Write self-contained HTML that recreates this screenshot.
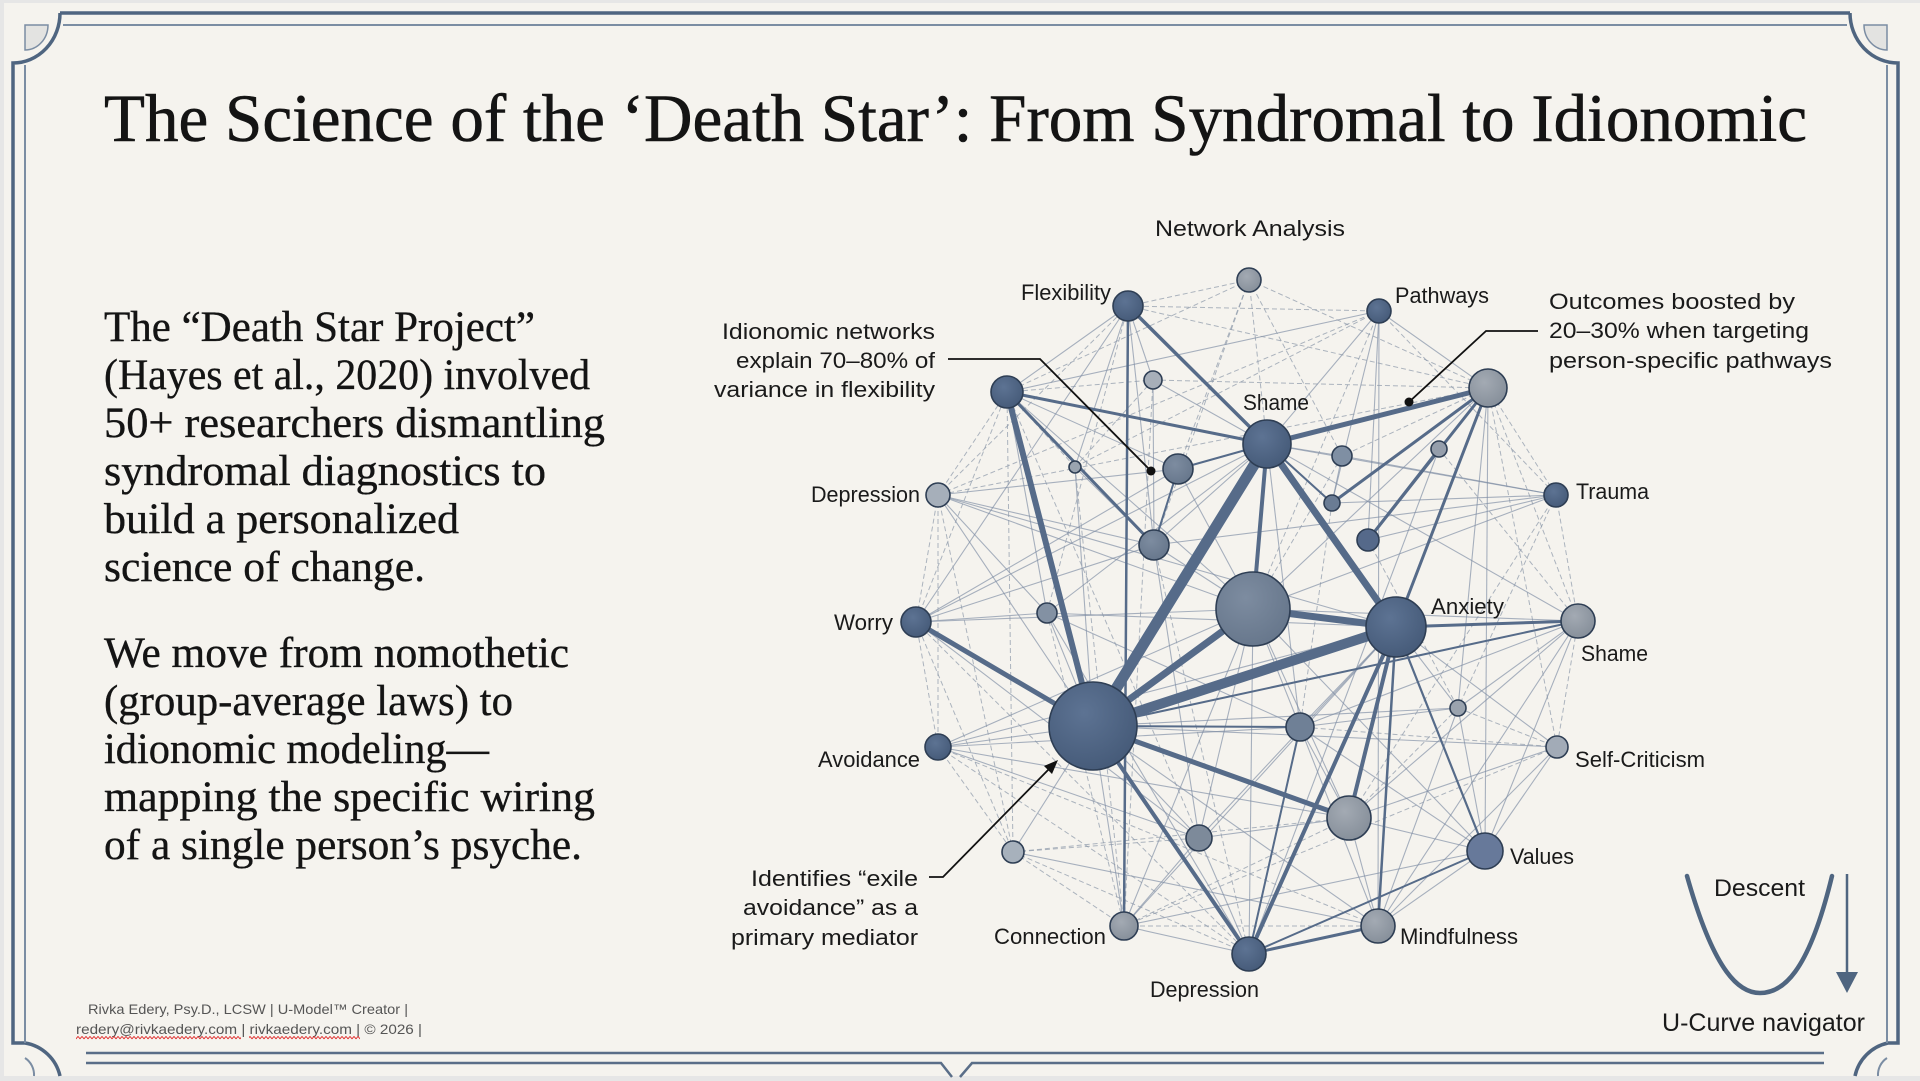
<!DOCTYPE html>
<html>
<head>
<meta charset="utf-8">
<style>
html,body{margin:0;padding:0;width:1920px;height:1081px;overflow:hidden;background:#e6e6e6;}
svg{display:block;}
.serif{font-family:"Liberation Serif","DejaVu Serif",serif;fill:#141414;stroke:#141414;stroke-width:0.35;}
.sans{font-family:"Liberation Sans","DejaVu Sans",sans-serif;fill:#1a1a1a;}
.t line{stroke:#7d8ca3;stroke-width:1.1;opacity:.65;}
.d line{stroke:#8c98a9;stroke-width:1;stroke-dasharray:5 3;opacity:.7;}
.k line{stroke:#566b89;stroke-linecap:round;}
.n circle{stroke:#2e3e54;stroke-width:1.6;}
</style>
</head>
<body>
<svg width="1920" height="1081" viewBox="0 0 1920 1081" xmlns="http://www.w3.org/2000/svg">
<defs>
<pattern id="wavy" width="4" height="4" patternUnits="userSpaceOnUse">
<path d="M0,3 L1,1.5 L2,0.5 L3,1.5 L4,3" stroke="#e02a2a" fill="none" stroke-width="0.9"/>
</pattern>
<radialGradient id="gd" cx="40%" cy="35%" r="70%"><stop offset="0" stop-color="#5d7393"/><stop offset="1" stop-color="#455a78"/></radialGradient>
<radialGradient id="gc" cx="40%" cy="35%" r="70%"><stop offset="0" stop-color="#7d8ca0"/><stop offset="1" stop-color="#66768b"/></radialGradient>
<radialGradient id="gg" cx="40%" cy="35%" r="70%"><stop offset="0" stop-color="#a3aab3"/><stop offset="1" stop-color="#858e99"/></radialGradient>
</defs>

<!-- page -->
<rect x="4" y="3" width="1916" height="1073" fill="#f5f3ee"/>

<!-- border -->
<g fill="none" stroke="#4f6580" stroke-width="3.5">
<path d="M60,13 H1850"/>
<path d="M60,13 A47,50 0 0 1 13,63 V1043 H25 A43,43 0 0 1 60,1076"/>
<path d="M1850,13 A48,50 0 0 0 1898,63 V1043 H1888 A43,43 0 0 0 1855,1076"/>
</g>
<g fill="none" stroke="#7b8da3" stroke-width="2">
<path d="M63,25 H1847"/>
<path d="M25,65 V1043"/>
<path d="M1887,65 V1043"/>
<path d="M25,1058 A20,20 0 0 1 34,1076"/>
<path d="M1887,1058 A20,20 0 0 0 1878,1076"/>
</g>
<path d="M25,25 H48 A23,25 0 0 1 25,50 Z" fill="#e3e3e1" stroke="#7b8da3" stroke-width="1.5"/>
<path d="M1887,25 H1864 A23,25 0 0 0 1887,50 Z" fill="#e3e3e1" stroke="#7b8da3" stroke-width="1.5"/>
<g fill="none" stroke="#5a6e88" stroke-width="2.5">
<path d="M86,1053 H1824"/>
<path d="M86,1063 H941 L952,1077 M960,1077 L972,1063 H1824"/>
</g>

<!-- title -->
<text class="serif" x="104" y="141" font-size="68" textLength="1703" lengthAdjust="spacingAndGlyphs" style="stroke-width:0.6">The Science of the ‘Death Star’: From Syndromal to Idionomic</text>

<!-- body text -->
<g class="serif" font-size="43">
<text x="104" y="341" textLength="431" lengthAdjust="spacingAndGlyphs">The “Death Star Project”</text>
<text x="104" y="389" textLength="486" lengthAdjust="spacingAndGlyphs">(Hayes et al., 2020) involved</text>
<text x="104" y="437" textLength="501" lengthAdjust="spacingAndGlyphs">50+ researchers dismantling</text>
<text x="104" y="485" textLength="442" lengthAdjust="spacingAndGlyphs">syndromal diagnostics to</text>
<text x="104" y="533" textLength="355" lengthAdjust="spacingAndGlyphs">build a personalized</text>
<text x="104" y="581" textLength="321" lengthAdjust="spacingAndGlyphs">science of change.</text>
<text x="104" y="667" textLength="465" lengthAdjust="spacingAndGlyphs">We move from nomothetic</text>
<text x="104" y="715" textLength="409" lengthAdjust="spacingAndGlyphs">(group-average laws) to</text>
<text x="104" y="763" textLength="385" lengthAdjust="spacingAndGlyphs">idionomic modeling—</text>
<text x="104" y="811" textLength="491" lengthAdjust="spacingAndGlyphs">mapping the specific wiring</text>
<text x="104" y="859" textLength="478" lengthAdjust="spacingAndGlyphs">of a single person’s psyche.</text>
</g>

<!-- thin edges -->
<g class="t">
<line x1="1128" y1="306" x2="1007" y2="392"/>
<line x1="1128" y1="306" x2="1154" y2="545"/>
<line x1="1128" y1="306" x2="1075" y2="467"/>
<line x1="1128" y1="306" x2="916" y2="622"/>
<line x1="1128" y1="306" x2="1153" y2="380"/>
<line x1="1379" y1="311" x2="1267" y2="444"/>
<line x1="1379" y1="311" x2="1007" y2="392"/>
<line x1="1379" y1="311" x2="1332" y2="503"/>
<line x1="1379" y1="311" x2="1368" y2="540"/>
<line x1="1379" y1="311" x2="1378" y2="926"/>
<line x1="1379" y1="311" x2="1488" y2="388"/>
<line x1="1007" y1="392" x2="1178" y2="469"/>
<line x1="1007" y1="392" x2="1253" y2="609"/>
<line x1="1007" y1="392" x2="1047" y2="613"/>
<line x1="1153" y1="380" x2="1267" y2="444"/>
<line x1="1153" y1="380" x2="1154" y2="545"/>
<line x1="1267" y1="444" x2="1342" y2="456"/>
<line x1="1267" y1="444" x2="1332" y2="503"/>
<line x1="1267" y1="444" x2="916" y2="622"/>
<line x1="1267" y1="444" x2="1047" y2="613"/>
<line x1="1267" y1="444" x2="1556" y2="495"/>
<line x1="1267" y1="444" x2="1578" y2="621"/>
<line x1="1267" y1="444" x2="1300" y2="727"/>
<line x1="1267" y1="444" x2="1154" y2="545"/>
<line x1="1488" y1="388" x2="1253" y2="609"/>
<line x1="1488" y1="388" x2="1458" y2="708"/>
<line x1="1488" y1="388" x2="1485" y2="851"/>
<line x1="1488" y1="388" x2="1439" y2="449"/>
<line x1="1342" y1="456" x2="1332" y2="503"/>
<line x1="1342" y1="456" x2="1556" y2="495"/>
<line x1="1439" y1="449" x2="1249" y2="954"/>
<line x1="1556" y1="495" x2="1332" y2="503"/>
<line x1="1556" y1="495" x2="1368" y2="540"/>
<line x1="1556" y1="495" x2="1253" y2="609"/>
<line x1="1556" y1="495" x2="1154" y2="545"/>
<line x1="938" y1="495" x2="1154" y2="545"/>
<line x1="938" y1="495" x2="1178" y2="469"/>
<line x1="938" y1="495" x2="1253" y2="609"/>
<line x1="938" y1="495" x2="1047" y2="613"/>
<line x1="938" y1="495" x2="1093" y2="726"/>
<line x1="938" y1="495" x2="1396" y2="627"/>
<line x1="916" y1="622" x2="1047" y2="613"/>
<line x1="916" y1="622" x2="1253" y2="609"/>
<line x1="916" y1="622" x2="1154" y2="545"/>
<line x1="916" y1="622" x2="1178" y2="469"/>
<line x1="916" y1="622" x2="1199" y2="838"/>
<line x1="1075" y1="467" x2="1154" y2="545"/>
<line x1="1075" y1="467" x2="1093" y2="726"/>
<line x1="1154" y1="545" x2="1253" y2="609"/>
<line x1="1154" y1="545" x2="1199" y2="838"/>
<line x1="1178" y1="469" x2="1154" y2="545"/>
<line x1="1178" y1="469" x2="1253" y2="609"/>
<line x1="1047" y1="613" x2="1093" y2="726"/>
<line x1="1047" y1="613" x2="1396" y2="627"/>
<line x1="1047" y1="613" x2="1300" y2="727"/>
<line x1="1047" y1="613" x2="1249" y2="954"/>
<line x1="1253" y1="609" x2="1300" y2="727"/>
<line x1="1253" y1="609" x2="1349" y2="818"/>
<line x1="1253" y1="609" x2="1249" y2="954"/>
<line x1="1253" y1="609" x2="1124" y2="926"/>
<line x1="1253" y1="609" x2="1485" y2="851"/>
<line x1="1253" y1="609" x2="1199" y2="838"/>
<line x1="1396" y1="627" x2="1458" y2="708"/>
<line x1="1396" y1="627" x2="1300" y2="727"/>
<line x1="1396" y1="627" x2="1557" y2="747"/>
<line x1="1396" y1="627" x2="1124" y2="926"/>
<line x1="1396" y1="627" x2="1199" y2="838"/>
<line x1="1578" y1="621" x2="1458" y2="708"/>
<line x1="1578" y1="621" x2="1485" y2="851"/>
<line x1="1578" y1="621" x2="1300" y2="727"/>
<line x1="1578" y1="621" x2="1349" y2="818"/>
<line x1="1578" y1="621" x2="1378" y2="926"/>
<line x1="1578" y1="621" x2="1253" y2="609"/>
<line x1="1458" y1="708" x2="1485" y2="851"/>
<line x1="1458" y1="708" x2="1378" y2="926"/>
<line x1="1458" y1="708" x2="1300" y2="727"/>
<line x1="1093" y1="726" x2="938" y2="747"/>
<line x1="1093" y1="726" x2="1013" y2="852"/>
<line x1="1093" y1="726" x2="1199" y2="838"/>
<line x1="1093" y1="726" x2="1124" y2="926"/>
<line x1="1093" y1="726" x2="1378" y2="926"/>
<line x1="1093" y1="726" x2="1557" y2="747"/>
<line x1="1093" y1="726" x2="1458" y2="708"/>
<line x1="938" y1="747" x2="1199" y2="838"/>
<line x1="938" y1="747" x2="1253" y2="609"/>
<line x1="938" y1="747" x2="1300" y2="727"/>
<line x1="938" y1="747" x2="1349" y2="818"/>
<line x1="938" y1="747" x2="1396" y2="627"/>
<line x1="1300" y1="727" x2="1349" y2="818"/>
<line x1="1300" y1="727" x2="1378" y2="926"/>
<line x1="1300" y1="727" x2="1485" y2="851"/>
<line x1="1557" y1="747" x2="1485" y2="851"/>
<line x1="1557" y1="747" x2="1349" y2="818"/>
<line x1="1557" y1="747" x2="1378" y2="926"/>
<line x1="1349" y1="818" x2="1485" y2="851"/>
<line x1="1349" y1="818" x2="1378" y2="926"/>
<line x1="1349" y1="818" x2="1199" y2="838"/>
<line x1="1199" y1="838" x2="1249" y2="954"/>
<line x1="1199" y1="838" x2="1124" y2="926"/>
<line x1="1013" y1="852" x2="1378" y2="926"/>
<line x1="1485" y1="851" x2="1378" y2="926"/>
<line x1="1485" y1="851" x2="1124" y2="926"/>
<line x1="1124" y1="926" x2="1249" y2="954"/>
</g>

<!-- dashed edges -->
<g class="d">
<line x1="1128" y1="306" x2="1249" y2="280"/>
<line x1="1128" y1="306" x2="1488" y2="388"/>
<line x1="1128" y1="306" x2="1379" y2="311"/>
<line x1="1128" y1="306" x2="938" y2="495"/>
<line x1="1128" y1="306" x2="1047" y2="613"/>
<line x1="1249" y1="280" x2="1267" y2="444"/>
<line x1="1249" y1="280" x2="1178" y2="469"/>
<line x1="1249" y1="280" x2="1007" y2="392"/>
<line x1="1249" y1="280" x2="1488" y2="388"/>
<line x1="1249" y1="280" x2="1342" y2="456"/>
<line x1="1249" y1="280" x2="1154" y2="545"/>
<line x1="1379" y1="311" x2="1075" y2="467"/>
<line x1="1379" y1="311" x2="938" y2="495"/>
<line x1="1379" y1="311" x2="1556" y2="495"/>
<line x1="1379" y1="311" x2="1253" y2="609"/>
<line x1="1007" y1="392" x2="938" y2="495"/>
<line x1="1007" y1="392" x2="1075" y2="467"/>
<line x1="1007" y1="392" x2="1153" y2="380"/>
<line x1="1007" y1="392" x2="916" y2="622"/>
<line x1="1007" y1="392" x2="1013" y2="852"/>
<line x1="1007" y1="392" x2="1199" y2="838"/>
<line x1="1153" y1="380" x2="1075" y2="467"/>
<line x1="1153" y1="380" x2="1124" y2="926"/>
<line x1="1153" y1="380" x2="1488" y2="388"/>
<line x1="1075" y1="467" x2="1124" y2="926"/>
<line x1="1488" y1="388" x2="1556" y2="495"/>
<line x1="1488" y1="388" x2="1578" y2="621"/>
<line x1="1488" y1="388" x2="1342" y2="456"/>
<line x1="1488" y1="388" x2="938" y2="495"/>
<line x1="1488" y1="388" x2="1557" y2="747"/>
<line x1="1556" y1="495" x2="1578" y2="621"/>
<line x1="1556" y1="495" x2="1458" y2="708"/>
<line x1="1556" y1="495" x2="1349" y2="818"/>
<line x1="938" y1="495" x2="916" y2="622"/>
<line x1="938" y1="495" x2="938" y2="747"/>
<line x1="938" y1="495" x2="1013" y2="852"/>
<line x1="916" y1="622" x2="938" y2="747"/>
<line x1="916" y1="622" x2="1013" y2="852"/>
<line x1="916" y1="622" x2="1249" y2="954"/>
<line x1="1578" y1="621" x2="1557" y2="747"/>
<line x1="1458" y1="708" x2="1557" y2="747"/>
<line x1="1458" y1="708" x2="1349" y2="818"/>
<line x1="938" y1="747" x2="1013" y2="852"/>
<line x1="938" y1="747" x2="1249" y2="954"/>
<line x1="938" y1="747" x2="1378" y2="926"/>
<line x1="1013" y1="852" x2="1124" y2="926"/>
<line x1="1013" y1="852" x2="1249" y2="954"/>
<line x1="1013" y1="852" x2="1349" y2="818"/>
<line x1="1013" y1="852" x2="1199" y2="838"/>
<line x1="1349" y1="818" x2="1124" y2="926"/>
<line x1="1124" y1="926" x2="1378" y2="926"/>
<line x1="1154" y1="545" x2="1249" y2="954"/>
<line x1="1047" y1="613" x2="1124" y2="926"/>
<line x1="1557" y1="747" x2="1300" y2="727"/>
<line x1="1557" y1="747" x2="1124" y2="926"/>
<line x1="1368" y1="540" x2="1458" y2="708"/>
<line x1="1332" y1="503" x2="1300" y2="727"/>
<line x1="1342" y1="456" x2="1253" y2="609"/>
<line x1="1439" y1="449" x2="1578" y2="621"/>
</g>

<!-- thick edges -->
<g class="k">
<line x1="1128" y1="306" x2="1124" y2="926" stroke="#8d9ab0" stroke-width="2.5"/>
<line x1="1267" y1="444" x2="1253" y2="609" stroke="#7c8ca0" stroke-width="4"/>
<line x1="1093" y1="726" x2="1267" y2="444" stroke-width="11"/>
<line x1="1093" y1="726" x2="1396" y2="627" stroke-width="10"/>
<line x1="1093" y1="726" x2="1253" y2="609" stroke-width="7"/>
<line x1="1093" y1="726" x2="1007" y2="392" stroke-width="6"/>
<line x1="1093" y1="726" x2="916" y2="622" stroke-width="5"/>
<line x1="1267" y1="444" x2="1396" y2="627" stroke-width="7"/>
<line x1="1267" y1="444" x2="1488" y2="388" stroke-width="5"/>
<line x1="1253" y1="609" x2="1396" y2="627" stroke-width="7"/>
<line x1="1093" y1="726" x2="1249" y2="954" stroke-width="4"/>
<line x1="1093" y1="726" x2="1349" y2="818" stroke-width="5"/>
<line x1="1396" y1="627" x2="1249" y2="954" stroke-width="4"/>
<line x1="1396" y1="627" x2="1349" y2="818" stroke-width="4"/>
<line x1="1396" y1="627" x2="1578" y2="621" stroke-width="3"/>
<line x1="1007" y1="392" x2="1154" y2="545" stroke-width="3"/>
<line x1="1007" y1="392" x2="1267" y2="444" stroke-width="3"/>
<line x1="1128" y1="306" x2="1267" y2="444" stroke-width="3.5"/>
<line x1="1488" y1="388" x2="1332" y2="503" stroke-width="3"/>
<line x1="1488" y1="388" x2="1368" y2="540" stroke-width="3"/>
<line x1="1488" y1="388" x2="1396" y2="627" stroke-width="3"/>
<line x1="1439" y1="449" x2="1368" y2="540" stroke-width="3"/>
<line x1="1267" y1="444" x2="1178" y2="469" stroke-width="2"/>
<line x1="1396" y1="627" x2="1485" y2="851" stroke-width="2.2"/>
<line x1="1378" y1="926" x2="1249" y2="954" stroke-width="3"/>
<line x1="1396" y1="627" x2="1378" y2="926" stroke-width="2.5"/>
<line x1="1093" y1="726" x2="1300" y2="727" stroke-width="2"/>
<line x1="1093" y1="726" x2="1578" y2="621" stroke-width="2"/>
<line x1="1300" y1="727" x2="1249" y2="954" stroke-width="2"/>
<line x1="1485" y1="851" x2="1249" y2="954" stroke-width="2"/>
<line x1="1178" y1="469" x2="1154" y2="545" stroke-width="2"/>
<line x1="1267" y1="444" x2="1332" y2="503" stroke-width="2"/>
</g>

<!-- nodes -->
<g class="n">
<circle cx="1249" cy="280" r="12" fill="url(#gg)" stroke="#7a8391"/>
<circle cx="1128" cy="306" r="15" fill="url(#gd)"/>
<circle cx="1379" cy="311" r="12" fill="url(#gd)"/>
<circle cx="1007" cy="392" r="16" fill="url(#gd)"/>
<circle cx="1153" cy="380" r="9" fill="#a7afb9" stroke="#7a8391"/>
<circle cx="1267" cy="444" r="24" fill="url(#gd)"/>
<circle cx="1488" cy="388" r="19" fill="url(#gg)" stroke="#6f7886"/>
<circle cx="1342" cy="456" r="10" fill="#7f8fa3"/>
<circle cx="1439" cy="449" r="8" fill="#959eab"/>
<circle cx="1075" cy="467" r="6" fill="#9aa4b0" stroke="#7a8391"/>
<circle cx="1178" cy="469" r="15" fill="url(#gc)"/>
<circle cx="938" cy="495" r="12" fill="#a6afba" stroke="#7a8391"/>
<circle cx="1556" cy="495" r="12" fill="url(#gd)"/>
<circle cx="1332" cy="503" r="8" fill="#6a7c94"/>
<circle cx="1368" cy="540" r="11" fill="#55698a"/>
<circle cx="1154" cy="545" r="15" fill="url(#gc)"/>
<circle cx="1253" cy="609" r="37" fill="url(#gc)"/>
<circle cx="1047" cy="613" r="10" fill="#8391a3"/>
<circle cx="916" cy="622" r="15" fill="url(#gd)"/>
<circle cx="1396" cy="627" r="30" fill="url(#gd)"/>
<circle cx="1578" cy="621" r="17" fill="url(#gg)" stroke="#6f7886"/>
<circle cx="1458" cy="708" r="8" fill="#9aa3ae" stroke="#7a8391"/>
<circle cx="1093" cy="726" r="44" fill="url(#gd)"/>
<circle cx="938" cy="747" r="13" fill="url(#gd)"/>
<circle cx="1300" cy="727" r="14" fill="#6f8096"/>
<circle cx="1557" cy="747" r="11" fill="#a2abb7" stroke="#7a8391"/>
<circle cx="1349" cy="818" r="22" fill="url(#gg)" stroke="#5a6474"/>
<circle cx="1199" cy="838" r="13" fill="#7d8a9a"/>
<circle cx="1013" cy="852" r="11" fill="#a7b1bc" stroke="#7a8391"/>
<circle cx="1485" cy="851" r="18" fill="#67799a"/>
<circle cx="1124" cy="926" r="14" fill="url(#gg)" stroke="#6f7886"/>
<circle cx="1378" cy="926" r="17" fill="url(#gg)" stroke="#6f7886"/>
<circle cx="1249" cy="954" r="17" fill="url(#gd)"/>
</g>

<!-- node labels -->
<g class="sans" font-size="22">
<text x="1155" y="236" textLength="190" lengthAdjust="spacingAndGlyphs">Network Analysis</text>
<text x="1021" y="300" textLength="90" lengthAdjust="spacingAndGlyphs">Flexibility</text>
<text x="1395" y="303" textLength="94" lengthAdjust="spacingAndGlyphs">Pathways</text>
<text x="1243" y="410" textLength="66" lengthAdjust="spacingAndGlyphs">Shame</text>
<text x="811" y="502" textLength="109" lengthAdjust="spacingAndGlyphs">Depression</text>
<text x="1576" y="499" textLength="73" lengthAdjust="spacingAndGlyphs">Trauma</text>
<text x="1431" y="614" textLength="73" lengthAdjust="spacingAndGlyphs">Anxiety</text>
<text x="834" y="630" textLength="59" lengthAdjust="spacingAndGlyphs">Worry</text>
<text x="1581" y="661" textLength="67" lengthAdjust="spacingAndGlyphs">Shame</text>
<text x="818" y="767" textLength="102" lengthAdjust="spacingAndGlyphs">Avoidance</text>
<text x="1575" y="767" textLength="130" lengthAdjust="spacingAndGlyphs">Self-Criticism</text>
<text x="1510" y="864" textLength="64" lengthAdjust="spacingAndGlyphs">Values</text>
<text x="994" y="944" textLength="112" lengthAdjust="spacingAndGlyphs">Connection</text>
<text x="1400" y="944" textLength="118" lengthAdjust="spacingAndGlyphs">Mindfulness</text>
<text x="1150" y="997" textLength="109" lengthAdjust="spacingAndGlyphs">Depression</text>
</g>

<!-- annotations -->
<g class="sans" font-size="22" text-anchor="end">
<text x="935" y="339" textLength="213" lengthAdjust="spacingAndGlyphs">Idionomic networks</text>
<text x="935" y="368" textLength="199" lengthAdjust="spacingAndGlyphs">explain 70–80% of</text>
<text x="935" y="397" textLength="221" lengthAdjust="spacingAndGlyphs">variance in flexibility</text>
<text x="918" y="886" textLength="167" lengthAdjust="spacingAndGlyphs">Identifies “exile</text>
<text x="918" y="915" textLength="175" lengthAdjust="spacingAndGlyphs">avoidance” as a</text>
<text x="918" y="945" textLength="187" lengthAdjust="spacingAndGlyphs">primary mediator</text>
</g>
<g class="sans" font-size="22">
<text x="1549" y="309" textLength="246" lengthAdjust="spacingAndGlyphs">Outcomes boosted by</text>
<text x="1549" y="338" textLength="260" lengthAdjust="spacingAndGlyphs">20–30% when targeting</text>
<text x="1549" y="368" textLength="283" lengthAdjust="spacingAndGlyphs">person-specific pathways</text>
</g>
<g fill="none" stroke="#111" stroke-width="1.8">
<path d="M948,359 H1040 L1151,471"/>
<path d="M1538,331 H1486 L1409,402"/>
<path d="M929,877 H943 L1050,768"/>
</g>
<circle cx="1151" cy="471" r="4.5" fill="#111"/>
<circle cx="1409" cy="402" r="4.5" fill="#111"/>
<polygon points="1058,760 1052,774 1044,766" fill="#111"/>

<!-- U-curve navigator -->
<path d="M1687,876 C1715,975 1740,993 1760,993 C1782,993 1808,975 1832,876" fill="none" stroke="#4f6580" stroke-width="4.5" stroke-linecap="round"/>
<line x1="1847" y1="874" x2="1847" y2="978" stroke="#4f6580" stroke-width="2.5"/>
<polygon points="1836,972 1858,972 1847,993" fill="#4f6580"/>
<text class="sans" x="1714" y="896" font-size="24" textLength="91" lengthAdjust="spacingAndGlyphs">Descent</text>
<text class="sans" x="1662" y="1031" font-size="25" textLength="203" lengthAdjust="spacingAndGlyphs">U-Curve navigator</text>

<!-- footer -->
<g font-family="'Liberation Sans','DejaVu Sans',sans-serif" font-size="14" fill="#555">
<text x="88" y="1014" textLength="320" lengthAdjust="spacingAndGlyphs">Rivka Edery, Psy.D., LCSW | U-Model™ Creator |</text>
<text x="76" y="1034" textLength="346" lengthAdjust="spacingAndGlyphs">redery@rivkaedery.com | rivkaedery.com | © 2026 |</text>
</g>
<rect x="76" y="1036" width="165" height="4" fill="url(#wavy)"/>
<rect x="249" y="1036" width="111" height="4" fill="url(#wavy)"/>
</svg>
</body>
</html>
